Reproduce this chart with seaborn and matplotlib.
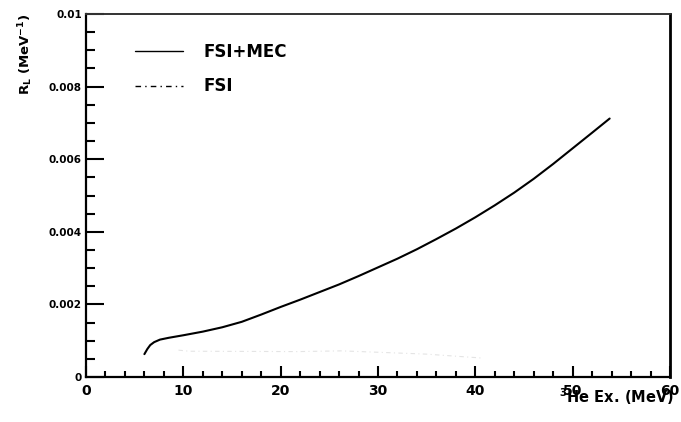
import numpy as np
import pandas as pd
import matplotlib
matplotlib.use("Agg")
import matplotlib.pyplot as plt
from matplotlib.ticker import MultipleLocator, FixedLocator, FixedFormatter
import seaborn as sns

# Longitudinal response R_L versus 3He excitation energy
energy_fsi_mec = [6.0, 6.3, 6.6, 7.0, 7.6, 8.5, 10.0, 12.0, 14.0, 16.0, 18.0,
                  20.0, 22.0, 24.0, 26.0, 28.0, 30.0, 32.0, 34.0, 36.0, 38.0,
                  40.0, 42.0, 44.0, 46.0, 48.0, 50.0, 52.0, 53.8]
rl_fsi_mec = [0.00063, 0.00077, 0.00088, 0.00096, 0.00103, 0.00108, 0.00115,
              0.00125, 0.00137, 0.00152, 0.00172, 0.00193, 0.00213, 0.00234,
              0.00255, 0.00278, 0.00302, 0.00326, 0.00352, 0.00380, 0.00409,
              0.00440, 0.00473, 0.00508, 0.00546, 0.00587, 0.00630, 0.00673,
              0.00712]

energy_fsi = [9.5, 10.6, 21.8, 26.2, 28.2, 35.0, 40.8]
rl_fsi = [0.00074, 0.00071, 0.00070, 0.00072, 0.00070, 0.00063, 0.00052]

x_ticks = [0, 10, 20, 30, 40, 50, 60]
x_tick_labels = ["0", "10", "20", "30", "40", "50", "60"]
y_ticks = [0, 0.002, 0.004, 0.006, 0.008, 0.01]
y_tick_labels = ["0", "0.002", "0.004", "0.006", "0.008", "0.01"]

df_main = pd.DataFrame({"E": energy_fsi_mec, "RL": rl_fsi_mec})
df_fsi = pd.DataFrame({"E": energy_fsi, "RL": rl_fsi})

sns.set_theme(style="white")
plt.rcParams["font.family"] = ["DejaVu Sans"]
plt.rcParams["font.weight"] = "bold"
plt.rcParams["text.color"] = "black"
plt.rcParams["axes.labelcolor"] = "black"
plt.rcParams["mathtext.fontset"] = "custom"
plt.rcParams["mathtext.rm"] = "DejaVu Sans:bold"
plt.rcParams["mathtext.bf"] = "DejaVu Sans:bold"
plt.rcParams["mathtext.it"] = "DejaVu Sans:bold"

fig = plt.figure(figsize=(6.81, 4.22), dpi=100)
ax = fig.add_axes([86 / 681, 45 / 422, 584 / 681, 363 / 422])

sns.lineplot(data=df_main, x="E", y="RL", ax=ax, color="black", lw=1.5,
             label="FSI+MEC", sort=True)
sns.lineplot(data=df_fsi, x="E", y="RL", ax=ax, color="#e4e4e4", lw=0.8,
             linestyle=(0, (4, 3, 1, 3)), label="FSI", sort=True)

ax.set_xlim(0, 60)
ax.set_ylim(0, 0.01)

ax.xaxis.set_major_locator(FixedLocator(x_ticks))
ax.xaxis.set_major_formatter(FixedFormatter(x_tick_labels))
ax.xaxis.set_minor_locator(MultipleLocator(2))
ax.yaxis.set_major_locator(FixedLocator(y_ticks))
ax.yaxis.set_major_formatter(FixedFormatter(y_tick_labels))
ax.yaxis.set_minor_locator(MultipleLocator(0.0005))

ax.tick_params(axis="x", which="major", direction="in", length=8, width=1.5,
               labelsize=10, pad=5, colors="black")
ax.tick_params(axis="x", which="minor", direction="in", length=4, width=1.5,
               colors="black")
ax.tick_params(axis="y", which="major", direction="in", length=13, width=1.5,
               labelsize=7.5, pad=3, colors="black")
ax.tick_params(axis="y", which="minor", direction="in", length=6.5, width=1.5,
               colors="black")
ax.tick_params(which="both", top=False, right=False, bottom=True, left=True)

for side in ["left", "bottom"]:
    ax.spines[side].set_color("black")
    ax.spines[side].set_linewidth(1.6)
ax.spines["top"].set_color("#333333")
ax.spines["top"].set_linewidth(1.4)
ax.spines["right"].set_color("black")
ax.spines["right"].set_linewidth(2.0)

ax.set_xlabel(r"$^{3}$He Ex. (MeV)", fontsize=10.5, fontweight="bold",
              color="black")
ax.xaxis.label.set_ha("right")
ax.xaxis.set_label_coords(1.006, -0.026)

ax.set_ylabel(r"R$_{\mathrm{L}}$ (MeV$^{\mathrm{-1}}$)", fontsize=9.5,
              fontweight="bold", color="black")
ax.yaxis.label.set_ha("right")
ax.yaxis.set_label_coords(-0.088, 1.0)

leg = ax.legend(loc="upper left", bbox_to_anchor=(0.072, 0.939), frameon=False,
                fontsize=12, handlelength=2.9, handletextpad=1.2,
                labelspacing=1.0, borderaxespad=0)
leg_lines = leg.get_lines()
leg_lines[0].set_linewidth(1.0)
leg_lines[1].set_color("black")
leg_lines[1].set_linewidth(1.0)
for t in leg.get_texts():
    t.set_fontweight("bold")
    t.set_color("black")

fig.savefig("out.png", dpi=100, facecolor="white")
